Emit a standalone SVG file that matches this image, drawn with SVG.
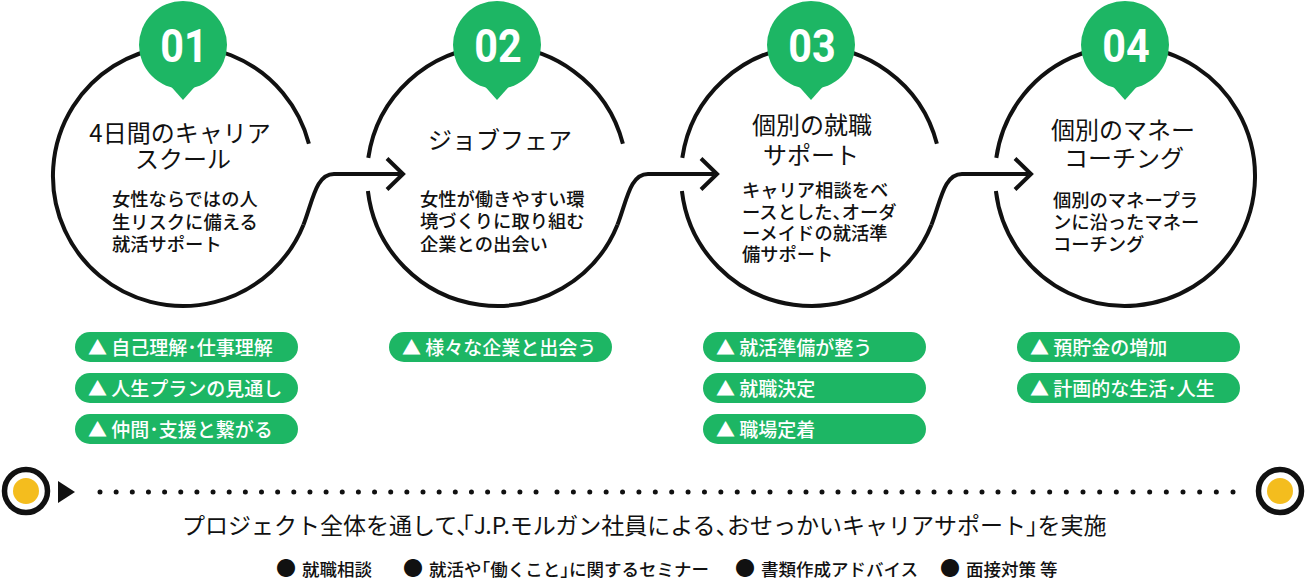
<svg xmlns="http://www.w3.org/2000/svg" width="1305" height="580" viewBox="0 0 1305 580">
<style>
.ring{fill:none;stroke:#111;stroke-width:4}
.conn{fill:none;stroke:#111;stroke-width:4}
.head{fill:none;stroke:#111;stroke-width:4;stroke-linejoin:miter}
.badge{fill:#1db664}
.num{font-family:Roboto,"Liberation Sans",sans-serif;font-weight:700;font-size:47px;fill:#fff;text-anchor:middle}
.title{font-family:"Noto Sans CJK JP",sans-serif;font-weight:400;font-size:24px;fill:#111;text-anchor:middle}
.body{font-family:"Noto Sans CJK JP",sans-serif;font-weight:500;font-size:18.3px;fill:#111}
.pill{fill:#1db664}
.pt{font-family:"Noto Sans CJK JP",sans-serif;font-weight:500;font-size:19px;fill:#fff}
.bt{font-family:"Noto Sans CJK JP",sans-serif;font-weight:400;font-size:23px;fill:#111}
.bl{font-family:"Noto Sans CJK JP",sans-serif;font-weight:500;font-size:17.5px;fill:#111}
.dot{font-family:"Noto Sans CJK JP",sans-serif;font-size:20px;fill:#111}
.dots{fill:none;stroke:#111;stroke-width:5;stroke-linecap:round}
.tg{fill:none;stroke:#111;stroke-width:5.5}
.ty{fill:#f4bd1e}
</style>

<g id="node1">
<path class="ring" d="M308.9 143.8 A130 130 0 1 0 303.5 224.7"/>
<circle class="badge" cx="183" cy="45" r="44"/>
<polygon class="badge" points="167,82 199,82 183,100"/>
<text class="num" transform="translate(184,62) scale(0.88,1)">01</text>
<text class="title" x="180" y="141.5">4日間のキャリア</text>
<text class="title" x="183" y="168">スクール</text>
<text class="body" x="112" y="205.5">女性ならではの人</text>
<text class="body" x="112" y="228.5">生リスクに備える</text>
<text class="body" x="112" y="250.5">就活サポート</text>
<rect class="pill" x="75" y="332" width="223" height="30" rx="15"/>
<text class="pt" x="88" y="354.5">▲ 自己理解･仕事理解</text>
<rect class="pill" x="75" y="373" width="223" height="30" rx="15"/>
<text class="pt" x="88" y="395.5">▲ 人生プランの見通し</text>
<rect class="pill" x="75" y="414" width="223" height="30" rx="15"/>
<text class="pt" x="88" y="436.5">▲ 仲間･支援と繋がる</text>
</g>

<g id="node2">
<path class="ring" d="M368.3 157.9 A130 130 0 0 1 622.9 143.8"/>
<path class="ring" d="M367.9 191 A130 130 0 0 0 617.5 224.7"/>
<circle class="badge" cx="497" cy="45" r="44"/>
<polygon class="badge" points="481,82 513,82 497,100"/>
<text class="num" transform="translate(498,62) scale(0.88,1)">02</text>
<text class="title" x="500" y="149">ジョブフェア</text>
<text class="body" x="420" y="205.5">女性が働きやすい環</text>
<text class="body" x="420" y="228">境づくりに取り組む</text>
<text class="body" x="420" y="250.5">企業との出会い</text>
<rect class="pill" x="389" y="332" width="223" height="30" rx="15"/>
<text class="pt" x="402" y="354.5">▲ 様々な企業と出会う</text>
</g>

<g id="node3">
<path class="ring" d="M682.3 157.9 A130 130 0 0 1 936.9 143.8"/>
<path class="ring" d="M681.9 191 A130 130 0 0 0 931.5 224.7"/>
<circle class="badge" cx="811" cy="45" r="44"/>
<polygon class="badge" points="795,82 827,82 811,100"/>
<text class="num" transform="translate(812,62) scale(0.88,1)">03</text>
<text class="title" x="812" y="133.5">個別の就職</text>
<text class="title" x="811" y="163.5">サポート</text>
<text class="body" x="742" y="197">キャリア相談をベ</text>
<text class="body" x="742" y="218.5">ースとした、<tspan dx="-9.15">オーダ</tspan></text>
<text class="body" x="742" y="240">ーメイドの就活準</text>
<text class="body" x="742" y="261">備サポート</text>
<rect class="pill" x="703" y="332" width="223" height="30" rx="15"/>
<text class="pt" x="716" y="354.5">▲ 就活準備が整う</text>
<rect class="pill" x="703" y="373" width="223" height="30" rx="15"/>
<text class="pt" x="716" y="395.5">▲ 就職決定</text>
<rect class="pill" x="703" y="414" width="223" height="30" rx="15"/>
<text class="pt" x="716" y="436.5">▲ 職場定着</text>
</g>

<g id="node4">
<path class="ring" d="M996.3 157.9 A130 130 0 1 1 995.9 191"/>
<circle class="badge" cx="1125" cy="45" r="44"/>
<polygon class="badge" points="1109,82 1141,82 1125,100"/>
<text class="num" transform="translate(1126,62) scale(0.88,1)">04</text>
<text class="title" x="1123" y="138.5">個別のマネー</text>
<text class="title" x="1124" y="166.5">コーチング</text>
<text class="body" x="1053" y="207">個別のマネープラ</text>
<text class="body" x="1053" y="229">ンに沿ったマネー</text>
<text class="body" x="1053" y="250.5">コーチング</text>
<rect class="pill" x="1017" y="332" width="223" height="30" rx="15"/>
<text class="pt" x="1030" y="354.5">▲ 預貯金の増加</text>
<rect class="pill" x="1017" y="373" width="223" height="30" rx="15"/>
<text class="pt" x="1030" y="395.5">▲ 計画的な生活･人生</text>
</g>

<g id="connectors">
<path class="conn" d="M303.5 224.7 C313 200 316 174 334 174 L400 174"/>
<polyline class="head" points="387,158.5 403,174 387,189.5"/>
<path class="conn" d="M617.5 224.7 C627 200 630 174 648 174 L714 174"/>
<polyline class="head" points="701,158.5 717,174 701,189.5"/>
<path class="conn" d="M931.5 224.7 C941 200 944 174 962 174 L1028 174"/>
<polyline class="head" points="1015,158.5 1031,174 1015,189.5"/>
</g>

<g id="timeline">
<circle class="tg" cx="26" cy="491" r="21.5"/>
<circle class="ty" cx="26" cy="491" r="13"/>
<polygon fill="#111" points="58,481 75,492 58,503"/>
<line class="dots" x1="100" y1="492" x2="536.5" y2="492" stroke-dasharray="0 16.15"/>
<line class="dots" x1="557" y1="492" x2="770.5" y2="492" stroke-dasharray="0 16.385"/>
<line class="dots" x1="790" y1="492" x2="1014.5" y2="492" stroke-dasharray="0 16"/>
<line class="dots" x1="1033" y1="492" x2="1233.5" y2="492" stroke-dasharray="0 16.667"/>
<circle class="tg" cx="1280" cy="491" r="21.5"/>
<circle class="ty" cx="1280" cy="491" r="13"/>
</g>

<g id="summary">
<text class="bt" x="182" y="534">プロジェクト全体を通して、<tspan dx="-17">「J.P.モルガン社員による、</tspan><tspan dx="-11.5">おせっかいキャリアサポート」</tspan><tspan dx="-11.5">を実施</tspan></text>
<text class="dot" x="276" y="576">●</text>
<text class="bl" x="302" y="576">就職相談</text>
<text class="dot" x="403" y="576">●</text>
<text class="bl" x="429" y="576">就活や<tspan dx="-8.75">「</tspan>働くこと」<tspan dx="-8.75">に</tspan>関するセミナー</text>
<text class="dot" x="735" y="576">●</text>
<text class="bl" x="761" y="576">書類作成アドバイス</text>
<text class="dot" x="940" y="576">●</text>
<text class="bl" x="966" y="576">面接対策 等</text>
</g>
</svg>
